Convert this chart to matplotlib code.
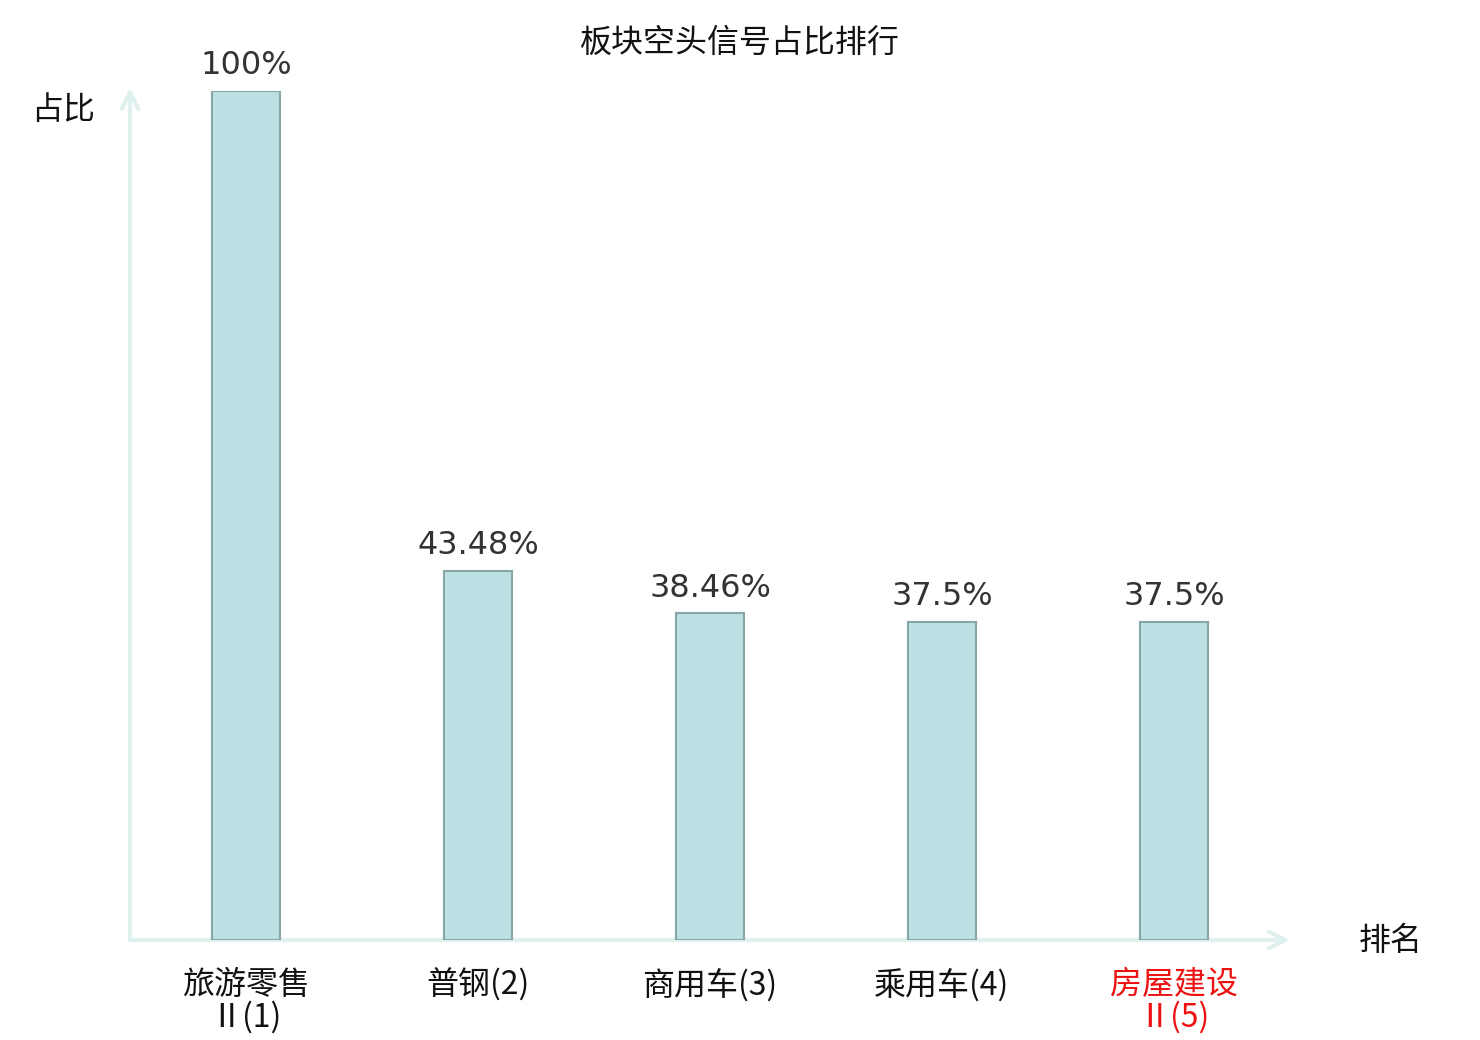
import matplotlib.pyplot as plt
import matplotlib.transforms as mtransforms

plt.rcParams['font.family'] = ['Noto Sans CJK SC', 'DejaVu Sans']

categories = ['旅游零售\nⅡ(1)', '普钢(2)', '商用车(3)', '乘用车(4)', '房屋建设\nⅡ(5)']
values = [100, 43.48, 38.46, 37.5, 37.5]
value_labels = ['100%', '43.48%', '38.46%', '37.5%', '37.5%']
label_colors = ['#111111', '#111111', '#111111', '#111111', '#ee1111']

fig = plt.figure(figsize=(14.8, 10.4), dpi=100)
ax = fig.add_axes([130 / 1480, 100 / 1040, 1160 / 1480, 849 / 1040])

x = list(range(len(values)))
ax.bar(x, values, width=0.293, color='#bce0e3', edgecolor='#88a5a7', linewidth=1.5, zorder=2)
ax.set_xlim(-0.5, 4.5)
ax.set_ylim(0, 100)

for s in ax.spines.values():
    s.set_visible(False)
ax.set_xticks([])
ax.set_yticks([])

axis_color = '#dff1ef'
ax.annotate('', xy=(1.0, 0), xytext=(0, 0), xycoords='axes fraction',
            arrowprops=dict(arrowstyle='->', color=axis_color, lw=3, mutation_scale=30,
                            shrinkA=0, shrinkB=0), zorder=1, annotation_clip=False)
ax.annotate('', xy=(0, 1.004), xytext=(0, 0), xycoords='axes fraction',
            arrowprops=dict(arrowstyle='->', color=axis_color, lw=3, mutation_scale=30,
                            shrinkA=0, shrinkB=0), zorder=1, annotation_clip=False)

# value labels above bars
for xi, v, lab in zip(x, values, value_labels):
    ax.annotate(lab, xy=(xi, v), xytext=(0, 7), textcoords='offset points',
                ha='center', va='bottom', fontsize=23, color='#333333',
                family='DejaVu Sans')

# category labels below the axis
trans = mtransforms.blended_transform_factory(ax.transData, ax.transAxes)
for xi, lab, c in zip(x, categories, label_colors):
    ax.text(xi, -0.034, lab, transform=trans, ha='center', va='top',
            fontsize=23, color=c, linespacing=1.0)

fig.text(740 / 1480, 1 - 43 / 1040, '板块空头信号占比排行', ha='center', va='center',
         fontsize=23, color='#111111')
fig.text(63 / 1480, 1 - 110 / 1040, '占比', ha='center', va='center',
         fontsize=23, color='#111111')
fig.text(1391 / 1480, 1 - 941 / 1040, '排名', ha='center', va='center',
         fontsize=23, color='#111111')

fig.savefig('out.png', dpi=100)
